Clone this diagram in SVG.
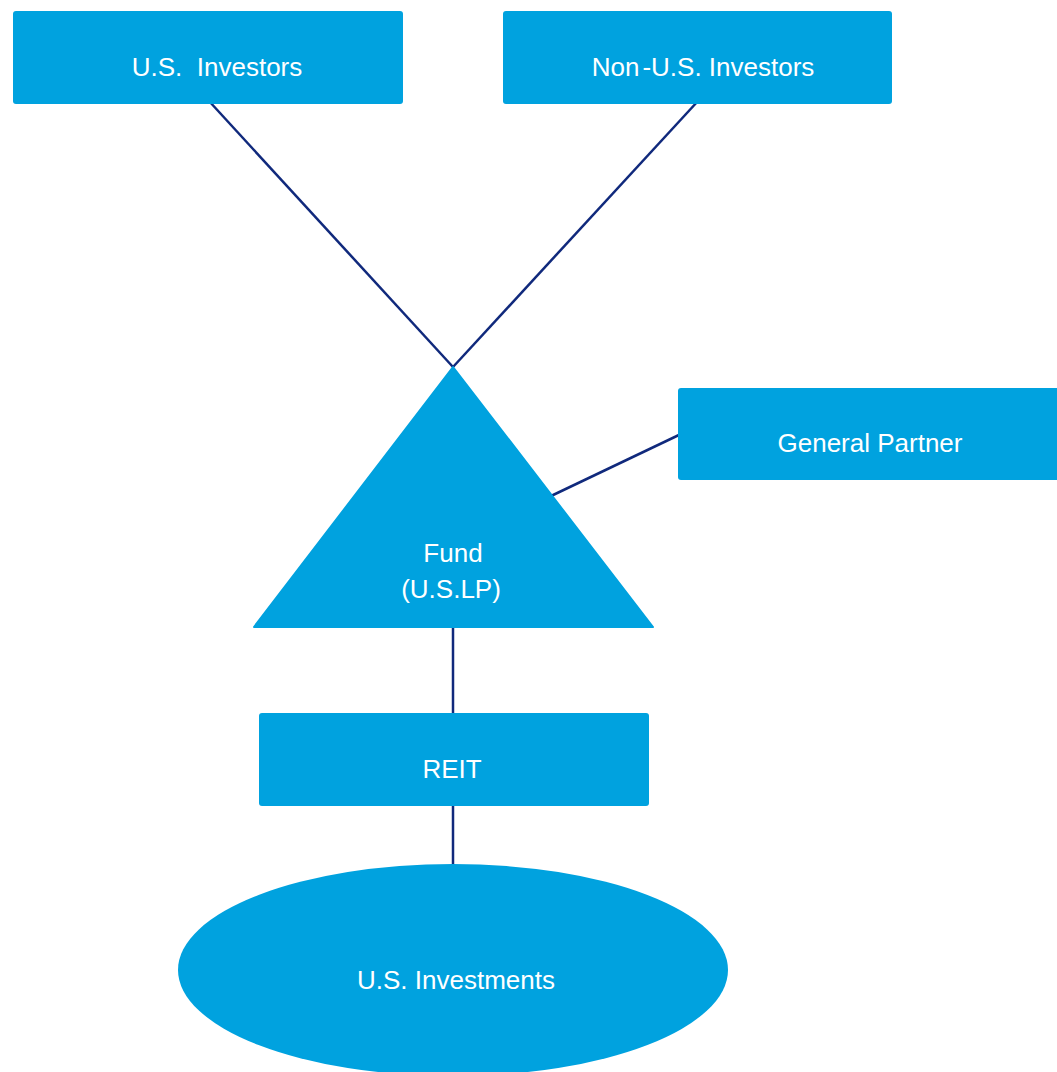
<svg xmlns="http://www.w3.org/2000/svg" width="1057" height="1072" viewBox="0 0 1057 1072">
<style>
.n{fill:#00A2DF}
.t{fill:#fff;font-family:"Liberation Sans",Arial,sans-serif;font-size:26px;text-anchor:middle;white-space:pre}
.c{stroke:#10297C;stroke-width:2.5;fill:none}
</style>
<rect width="1057" height="1072" fill="#fff"/>
<g id="connectors">
<line class="c" x1="209" y1="101" x2="453" y2="367"/>
<line class="c" x1="698" y1="101" x2="453" y2="367"/>
<line class="c" x1="551" y1="496" x2="681" y2="434"/>
<line class="c" x1="453" y1="625" x2="453" y2="715"/>
<line class="c" x1="453" y1="804" x2="453" y2="868"/>
</g>
<g id="us-investors">
<rect class="n" x="13" y="11" width="390" height="93" rx="3"/>
<text class="t" x="217" y="76" xml:space="preserve">U.S.  Investors</text>
</g>
<g id="non-us-investors">
<rect class="n" x="503" y="11" width="389" height="93" rx="3"/>
<text class="t" x="703" y="76" xml:space="preserve">Non<tspan dx="3">-</tspan>U.S. Investors</text>
</g>
<g id="fund">
<path class="n" d="M453,367 L653,627 L254,627 Z" stroke="#00A2DF" stroke-width="2" stroke-linejoin="round"/>
<text class="t" x="453" y="562">Fund</text>
<text class="t" x="451" y="598">(U.S.LP)</text>
</g>
<g id="general-partner">
<rect class="n" x="678" y="388" width="385" height="92" rx="3"/>
<text class="t" x="870" y="452">General Partner</text>
</g>
<g id="reit">
<rect class="n" x="259" y="713" width="390" height="93" rx="3"/>
<text class="t" x="452" y="778">REIT</text>
</g>
<g id="us-investments">
<ellipse class="n" cx="453" cy="970" rx="275" ry="106"/>
<text class="t" x="456" y="989">U.S. Investments</text>
</g>
</svg>
